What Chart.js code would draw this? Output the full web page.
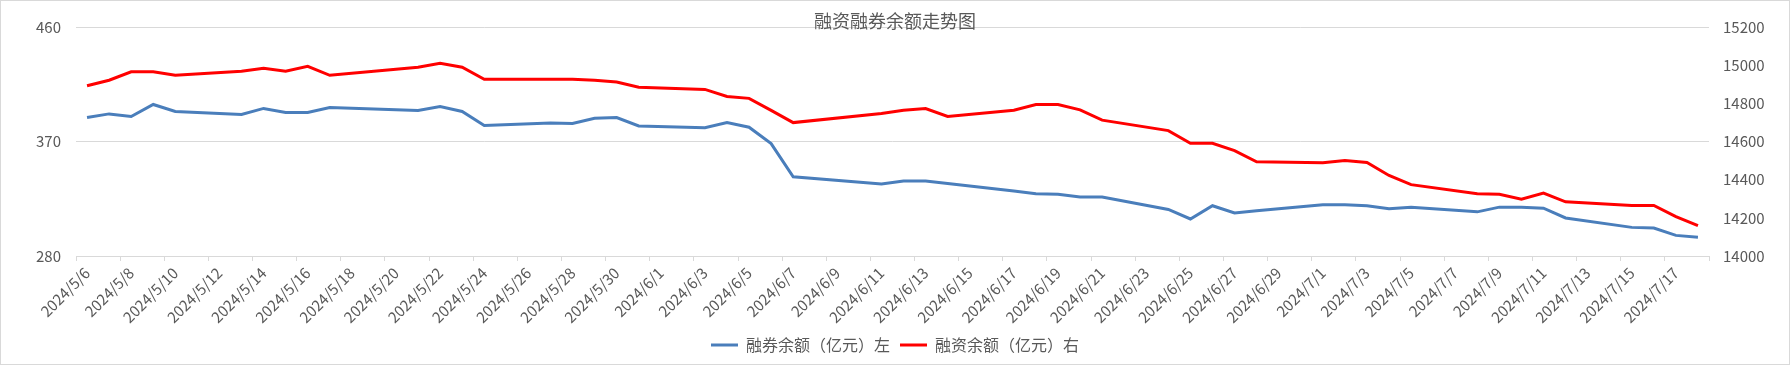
<!DOCTYPE html>
<html lang="zh">
<head>
  <meta charset="utf-8">
  <title>融资融券余额走势图</title>
  <style>
    * { margin:0; padding:0; box-sizing:border-box }
    body { background:#fff; width:1790px; height:365px; overflow:hidden }
    #wrap { width:1790px; height:365px }
  </style>
</head>
<body>
  <div id="wrap"><canvas id="chart" width="1790" height="365"></canvas></div>

  <script src="https://cdn.jsdelivr.net/npm/chart.js@4.4.1/dist/chart.umd.min.js"></script>
  <script>
  // trading days (data points); the axis itself runs every calendar day
  const tradeDates = [
    '2024/5/6','2024/5/7','2024/5/8','2024/5/9','2024/5/10',
    '2024/5/13','2024/5/14','2024/5/15','2024/5/16','2024/5/17',
    '2024/5/20','2024/5/21','2024/5/22','2024/5/23','2024/5/24',
    '2024/5/27','2024/5/28','2024/5/29','2024/5/30','2024/5/31',
    '2024/6/3','2024/6/4','2024/6/5','2024/6/6','2024/6/7',
    '2024/6/11','2024/6/12','2024/6/13','2024/6/14',
    '2024/6/17','2024/6/18','2024/6/19','2024/6/20','2024/6/21',
    '2024/6/24','2024/6/25','2024/6/26','2024/6/27','2024/6/28',
    '2024/7/1','2024/7/2','2024/7/3','2024/7/4','2024/7/5',
    '2024/7/8','2024/7/9','2024/7/10','2024/7/11','2024/7/12',
    '2024/7/15','2024/7/16','2024/7/17','2024/7/18'
  ];

  // 融券余额（亿元）, left axis
  const shortBal = [
    388.8, 391.7, 389.6, 399.1, 393.6,
    391.2, 396.0, 392.8, 392.8, 396.7,
    394.9, 394.4, 397.5, 393.6, 382.5,
    384.6, 384.1, 388.3, 388.8, 382.2,
    380.9, 384.9, 381.2, 368.3, 342.2,
    336.6, 339.0, 339.0, 336.9,
    331.1, 329.0, 328.5, 326.4, 326.4,
    316.6, 309.1, 319.5, 313.9, 315.5,
    320.2, 320.2, 319.5, 317.1, 318.4,
    314.7, 318.4, 318.4, 317.6, 309.9,
    302.5, 302.0, 296.2, 294.8
  ];

  // 融资余额（亿元）, right axis
  const marginBal = [
    14892, 14921, 14965, 14965, 14947,
    14968, 14984, 14968, 14994, 14947,
    14979, 14989, 15010, 14989, 14926,
    14926, 14926, 14921, 14912, 14884,
    14873, 14836, 14826, 14763, 14699,
    14747, 14764, 14773, 14731,
    14764, 14794, 14794, 14766, 14712,
    14657, 14591, 14591, 14552, 14494,
    14489, 14501, 14490, 14422, 14374,
    14326, 14323, 14298, 14330, 14284,
    14265, 14265, 14206, 14159
  ];

  const axisStart = '2024/5/6';
  const axisEnd   = '2024/7/18';
  const leftTicks  = { min: 280, max: 460, step: 90 };
  const rightTicks = { min: 14000, max: 15200, step: 200 };

  const fmt = d => d.getFullYear() + '/' + (d.getMonth() + 1) + '/' + d.getDate();

  // one category per calendar day, like Excel's date axis
  const days = [];
  for (let d = new Date(axisStart); d <= new Date(axisEnd); d.setDate(d.getDate() + 1)) {
    days.push(fmt(d));
  }
  const onDays = vals => days.map(day => {
    const i = tradeDates.indexOf(day);
    return i < 0 ? null : vals[i];
  });

  const grey = '#595959';
  const font = "'Noto Sans CJK SC', 'Noto Sans', sans-serif";

  const frame = {
    id: 'frame',
    beforeDraw(c) {
      const ctx = c.ctx;
      ctx.save();
      ctx.fillStyle = '#fff';
      ctx.fillRect(0, 0, c.width, c.height);
      ctx.restore();
    },
    afterDraw(c) {
      const ctx = c.ctx;
      ctx.save();
      ctx.strokeStyle = '#d9d9d9';
      ctx.lineWidth = 1;
      ctx.strokeRect(0.5, 0.5, c.width - 1, c.height - 1);
      ctx.fillStyle = grey;
      ctx.font = '18px ' + font;
      ctx.textAlign = 'center';
      ctx.textBaseline = 'middle';
      ctx.fillText('融资融券余额走势图', c.width / 2, 21);
      ctx.restore();
    }
  };

  new Chart(document.getElementById('chart'), {
    type: 'line',
    data: {
      labels: days,
      datasets: [
        {
          label: '融券余额（亿元）左',
          data: onDays(shortBal),
          yAxisID: 'yL',
          borderColor: '#4a7ebb',
          backgroundColor: '#4a7ebb',
          borderWidth: 3,
          pointRadius: 0,
          tension: 0,
          spanGaps: true
        },
        {
          label: '融资余额（亿元）右',
          data: onDays(marginBal),
          yAxisID: 'yR',
          borderColor: '#ff0000',
          backgroundColor: '#ff0000',
          borderWidth: 3,
          pointRadius: 0,
          tension: 0,
          spanGaps: true
        }
      ]
    },
    options: {
      responsive: false,
      animation: false,
      layout: { padding: { top: 27, left: 0, right: 0, bottom: 2 } },
      plugins: {
        title: { display: false },
        tooltip: { enabled: false },
        legend: {
          position: 'bottom',
          labels: {
            color: grey,
            font: { size: 16, family: font },
            usePointStyle: true,
            pointStyle: 'line',
            pointStyleWidth: 27,
            padding: 10
          }
        }
      },
      scales: {
        x: {
          offset: true,
          afterFit: s => { s.height = 71; },
          border: { color: '#d9d9d9' },
          grid: {
            offset: true,
            drawOnChartArea: false,
            tickLength: 5,
            color: ctx => ctx.index % 2 ? 'rgba(0,0,0,0)' : '#d9d9d9'
          },
          ticks: {
            autoSkip: false,
            maxRotation: 45,
            minRotation: 45,
            color: grey,
            font: { size: 15, family: font },
            callback: (v, i) => i % 2 ? '' : days[i]
          }
        },
        yL: {
          position: 'left',
          min: leftTicks.min,
          max: leftTicks.max,
          afterFit: s => { s.width = 76; },
          border: { display: false },
          grid: { color: '#d9d9d9', drawTicks: false },
          ticks: {
            stepSize: leftTicks.step,
            padding: 15,
            color: grey,
            font: { size: 15, family: font }
          }
        },
        yR: {
          position: 'right',
          min: rightTicks.min,
          max: rightTicks.max,
          afterFit: s => { s.width = 81; },
          border: { display: false },
          grid: { drawOnChartArea: false, drawTicks: false },
          ticks: {
            stepSize: rightTicks.step,
            padding: 14,
            color: grey,
            font: { size: 15, family: font },
            callback: v => String(v)
          }
        }
      }
    },
    plugins: [frame]
  });
  </script>
</body>
</html>
